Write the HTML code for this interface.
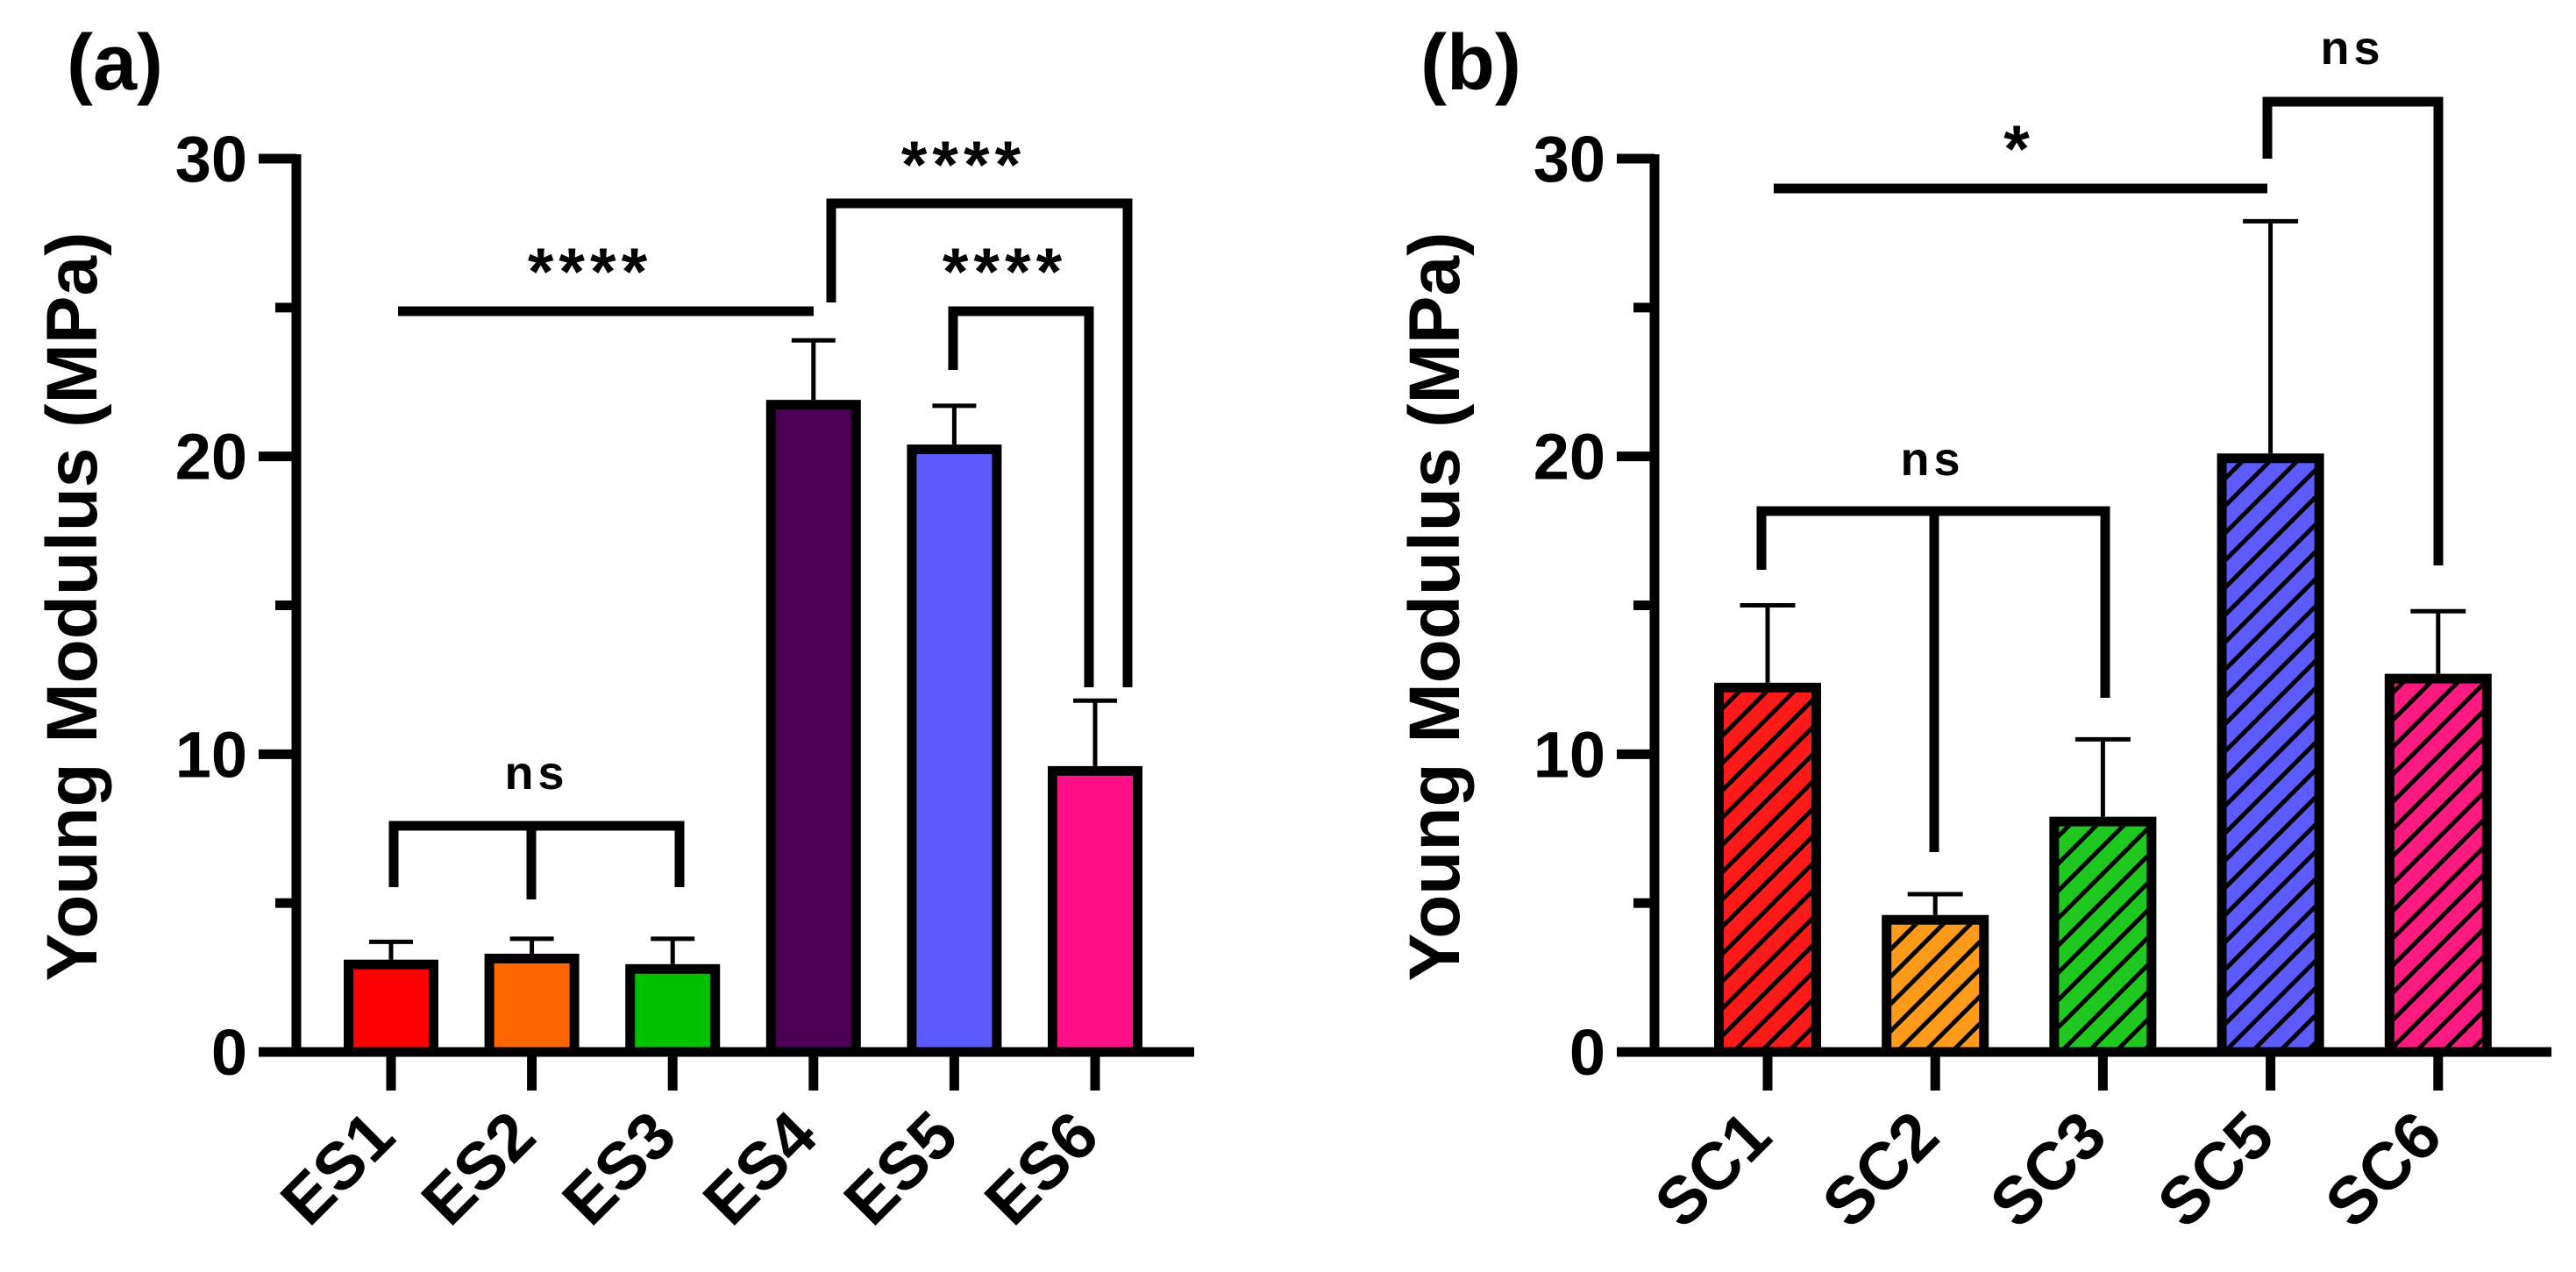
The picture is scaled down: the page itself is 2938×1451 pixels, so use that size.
<!DOCTYPE html>
<html><head><meta charset="utf-8"><style>
html,body{margin:0;padding:0;background:#fff;}
svg{display:block;}
text{font-family:"Liberation Sans",Arial,sans-serif;font-weight:bold;fill:#000;}
</style></head><body>
<svg id="chart" width="2938" height="1451" viewBox="0 0 2938 1451" xmlns="http://www.w3.org/2000/svg">
<defs>
<pattern id="hatch" patternUnits="userSpaceOnUse" width="22" height="22" patternTransform="rotate(45)">
<rect x="0" y="0" width="5" height="22" fill="#000"/>
</pattern>
</defs>
</svg>
<script>
const catsA = ["ES1","ES2","ES3","ES4","ES5","ES6"];
const valsA = [3.1,3.3,2.95,21.9,20.4,9.6];
const errA = [3.7,3.8,3.8,23.9,21.7,11.8];
const colorsA = ["#ff0000","#ff6600","#00c000","#4b0055","#5a5aff","#ff1087"];
const catsB = ["SC1","SC2","SC3","SC5","SC6"];
const valsB = [12.4,4.6,7.9,20.1,12.7];
const errB = [15.0,5.3,10.5,27.9,14.8];
const colorsB = ["#ff1a1a","#ff9a1a","#1ec81e","#5b5bff","#ff1a80"];
const yTicks = [0,10,20,30];
const yMinor = [5,15,25];

const NS="http://www.w3.org/2000/svg";
const svg=document.getElementById('chart');
function mk(tag,attrs,parent){const e=document.createElementNS(NS,tag);for(const k in attrs)e.setAttribute(k,attrs[k]);(parent||svg).appendChild(e);return e;}
const Y0=1200, Y30=181;
function yy(v){return Y0-(Y0-Y30)*v/30;}

function panel(cfg){
  const g=mk('g',{});
  
  
  const x=i=>cfg.x0+i*cfg.step;
  cfg.cats.forEach((c,i)=>{
    const cx=x(i), top=yy(cfg.vals[i]), et=yy(cfg.err[i]);
    const eb=mk('line',{x1:cx,x2:cx,y1:top,y2:et,stroke:'#000','stroke-width':5},g);
    
    
    const cap=mk('line',{x1:cx-cfg.cap/2,x2:cx+cfg.cap/2,y1:et,y2:et,stroke:'#000','stroke-width':5},g);
    
    
    const r=mk('rect',{x:cx-cfg.bw/2+5.5,y:top+5.5,width:cfg.bw-11,height:Y0-top-5.5,fill:cfg.colors[i],stroke:'#000','stroke-width':11},g);
    
    
    if(cfg.hatch){
      const h=mk('rect',{x:cx-cfg.bw/2+11,y:top+11,width:cfg.bw-22,height:Y0-top-11,fill:'url(#hatch)'},g);
      
      
    }
    const t=mk('line',{x1:cx,x2:cx,y1:Y0,y2:1244,stroke:'#000','stroke-width':11},g);
    
    
    const lx=cx+8, ly=1300;
    const lbl=mk('text',{x:lx,y:ly,'font-size':76,'text-anchor':'end',transform:`rotate(-45 ${lx} ${ly})`},g);
    lbl.textContent=c;
    
    
  });
  const ya=mk('line',{x1:cfg.ax,x2:cfg.ax,y1:Y30-5,y2:Y0+5.5,stroke:'#000','stroke-width':11},g);
  
  
  const xa=mk('line',{x1:cfg.ax-43,x2:cfg.axEnd,y1:Y0,y2:Y0,stroke:'#000','stroke-width':11},g);
  
  
  yTicks.forEach(v=>{
    const t=mk('line',{x1:cfg.ax-43,x2:cfg.ax,y1:yy(v),y2:yy(v),stroke:'#000','stroke-width':11},g);
    
    
    const l=mk('text',{x:cfg.ax-56,y:yy(v)+26,'font-size':74,'text-anchor':'end'},g);
    l.textContent=v;
    
    
  });
  yMinor.forEach(v=>{
    const t=mk('line',{x1:cfg.ax-24,x2:cfg.ax,y1:yy(v),y2:yy(v),stroke:'#000','stroke-width':11},g);
    
    
  });
  const yl=mk('text',{x:cfg.ylx,y:692,'font-size':82,'text-anchor':'middle',transform:`rotate(-90 ${cfg.ylx} 692)`},g);
  yl.textContent='Young Modulus (MPa)';
  
  
  const pl=mk('text',{x:cfg.plx,y:102,'font-size':90},g);
  pl.textContent=cfg.letter;
  
  
  cfg.sig.forEach((s,k)=>{
    const p=mk('path',{d:s.d,fill:'none',stroke:'#000','stroke-width':11,'stroke-linejoin':'miter'},g);
    
    
    const t=mk('text',{x:s.tx,y:s.ty,'font-size':s.fs,'text-anchor':'middle','letter-spacing':s.ls||0},g);
    t.textContent=s.t;
    
    
  });
}

panel({name:'panel-a',cats:catsA,vals:valsA,err:errA,colors:colorsA,x0:446,step:160.6,bw:108,cap:50,ax:338,axEnd:1362,ylx:110,plx:76,letter:'(a)',hatch:false,
 sig:[
  {d:'M449 1012 V942 H775 V1012 M606 942 V1026',t:'ns',tx:612,ty:900,fs:54,ls:5},
  {d:'M454 355 H928',t:'****',tx:673,ty:336,fs:76,ls:6},
  {d:'M948 345 V232 H1286 V784',t:'****',tx:1099,ty:214,fs:76,ls:6},
  {d:'M1087 422 V355 H1242 V784',t:'****',tx:1146,ty:336,fs:76,ls:6}
 ]});
panel({name:'panel-b',cats:catsB,vals:valsB,err:errB,colors:colorsB,x0:2016,step:191.2,bw:122,cap:63,ax:1887,axEnd:2910,ylx:1664,plx:1620,letter:'(b)',hatch:true,
 sig:[
  {d:'M2009 650 V583 H2401 V796 M2206 583 V972',t:'ns',tx:2204,ty:542,fs:54,ls:5},
  {d:'M2023 215 H2586',t:'*',tx:2300,ty:196,fs:76},
  {d:'M2586 181 V116 H2781 V645',t:'ns',tx:2683,ty:73,fs:54,ls:5}
 ]});
</script>
</body></html>
